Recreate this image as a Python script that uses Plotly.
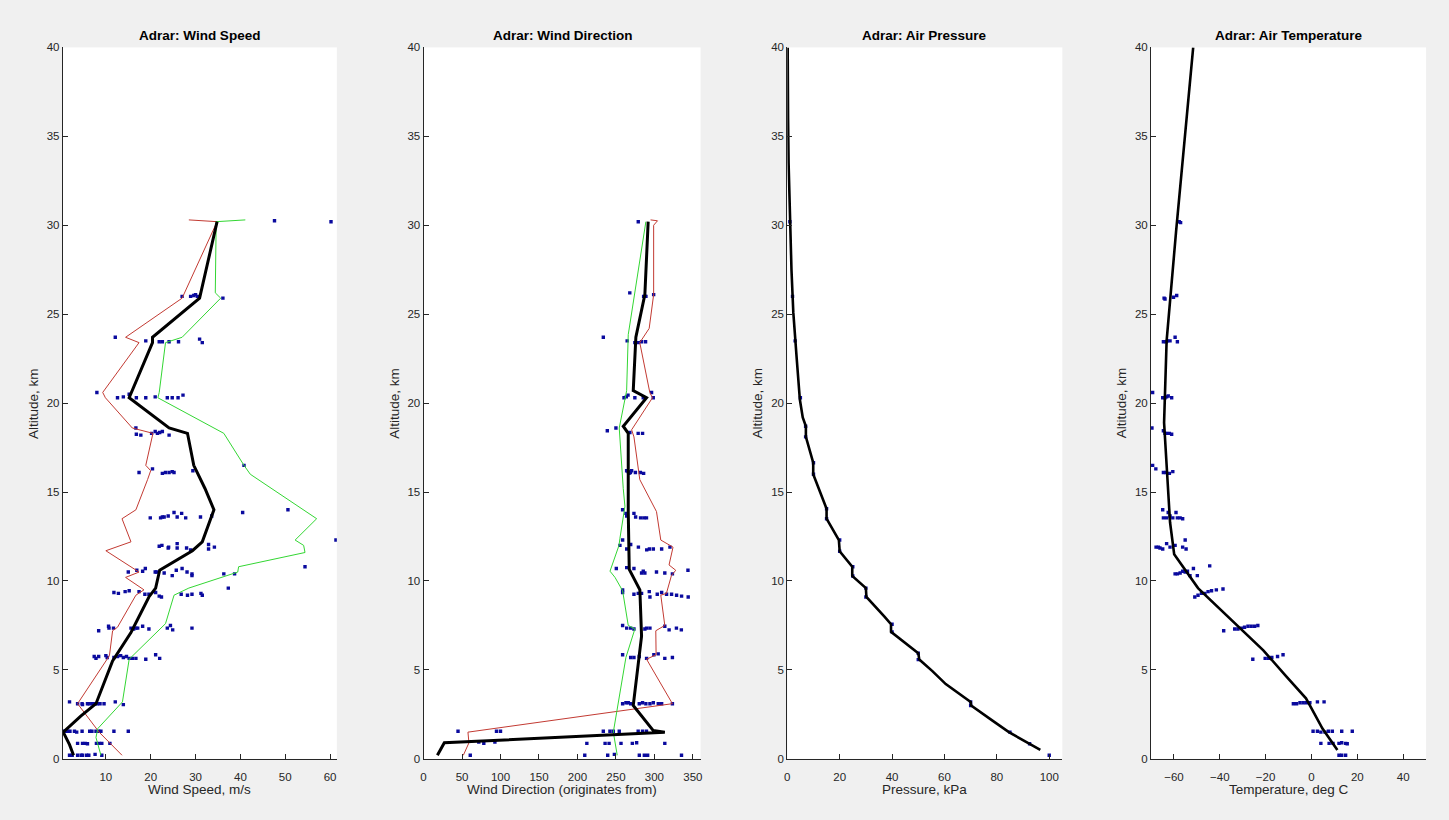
import plotly.graph_objects as go

# ---------------- DATA ----------------
# Wind speed (m/s) vs altitude (km)
WS_POINTS = [
    (47.6, 30.25), (60.2, 30.2),
    (27.0, 26.0), (28.9, 26.0), (29.6, 26.05), (30.0, 26.1), (30.4, 26.0), (36.1, 25.9),
    (12.1, 23.7), (18.9, 23.5), (21.9, 23.45), (22.6, 23.45), (24.1, 23.45), (26.2, 23.45), (30.9, 23.6), (31.5, 23.4),
    (8.0, 20.6), (12.6, 20.3), (13.9, 20.35), (15.2, 20.5), (16.8, 20.3), (18.9, 20.3), (21.0, 20.35), (23.7, 20.3),
    (24.8, 20.3), (26.1, 20.3), (27.2, 20.45),
    (16.7, 18.6), (16.8, 18.25), (17.8, 18.2), (20.2, 18.3), (21.0, 18.4), (21.5, 18.3), (22.0, 18.35), (22.6, 18.4), (24.1, 18.2),
    (17.4, 16.1), (20.4, 16.3), (22.6, 16.05), (23.3, 16.1), (24.1, 16.1), (24.8, 16.15), (25.2, 16.1), (29.4, 16.2), (40.8, 16.5),
    (19.9, 13.55), (22.2, 13.55), (22.6, 13.6), (23.0, 13.6), (23.9, 13.65), (25.2, 13.85), (25.9, 13.6), (26.9, 13.8),
    (27.8, 13.55), (31.1, 13.6), (33.6, 13.65), (40.5, 13.85), (50.6, 14.0),
    (21.9, 11.95), (22.5, 12.0), (23.9, 11.85), (24.0, 11.9), (25.9, 11.85), (25.9, 12.1), (28.0, 11.85), (28.9, 11.75),
    (32.9, 12.05), (32.9, 11.8), (34.2, 11.9), (61.3, 12.3),
    (15.0, 10.5), (16.9, 10.6), (18.2, 10.55), (18.8, 10.7), (21.0, 10.5), (21.3, 10.5), (23.0, 10.45), (24.8, 10.3),
    (25.7, 10.6), (27.0, 10.7), (28.1, 10.5), (29.2, 10.4), (29.2, 10.3), (36.3, 10.4), (38.7, 10.4), (54.4, 10.8), (37.3, 9.6),
    (11.8, 9.35), (12.8, 9.3), (14.3, 9.4), (15.2, 9.45), (17.4, 9.4), (18.7, 9.25), (19.6, 9.25), (21.1, 9.35),
    (21.9, 9.15), (22.4, 9.1), (26.8, 9.25), (28.2, 9.2), (29.2, 9.25), (31.2, 9.3), (31.5, 9.2),
    (8.4, 7.2), (10.6, 7.45), (10.7, 7.35), (11.7, 7.35), (15.6, 7.35), (16.2, 7.3), (16.7, 7.35), (17.1, 7.35),
    (18.2, 7.45), (19.6, 7.3), (23.7, 7.35), (24.4, 7.5), (24.9, 7.25), (29.2, 7.35),
    (7.4, 5.75), (7.8, 5.65), (8.4, 5.75), (10.0, 5.8), (10.3, 5.7), (11.8, 5.7), (12.6, 5.75), (13.3, 5.8), (13.9, 5.7),
    (14.6, 5.75), (15.2, 5.65), (15.9, 5.65), (16.7, 5.65), (18.9, 5.6), (21.1, 5.85), (22.0, 5.65),
    (1.9, 3.2), (3.7, 3.1), (4.7, 3.1), (4.8, 3.05), (5.9, 3.1), (6.3, 3.1), (7.0, 3.1), (7.6, 3.1), (8.1, 3.1),
    (8.7, 3.1), (9.6, 3.1), (12.1, 3.2), (13.9, 3.05),
    (0.8, 1.55), (1.0, 1.55), (1.5, 1.55), (2.0, 1.55), (3.0, 1.55), (3.5, 1.5), (4.7, 1.55), (6.4, 1.55), (6.9, 1.55),
    (7.8, 1.55), (8.4, 1.55), (8.9, 1.55), (11.8, 1.55), (15.0, 1.55),
    (3.7, 0.87), (4.8, 0.87), (5.4, 0.87), (5.9, 0.85), (7.9, 0.87), (8.5, 0.87), (9.1, 0.87), (10.9, 0.87),
    (1.9, 0.2), (2.5, 0.2), (3.7, 0.2), (4.5, 0.2), (4.8, 0.2), (5.7, 0.2), (6.2, 0.2), (7.6, 0.25), (9.1, 0.2),
]
WS_MEAN = [(2.8, 0.2), (1.9, 0.8), (0.5, 1.5), (4.4, 2.4), (7.8, 3.1), (11.5, 5.5), (15.6, 7.1), (19.6, 9.1),
           (21.1, 9.6), (22.0, 10.6), (29.3, 11.7), (31.5, 12.2), (34.1, 14.0), (32.1, 15.2), (29.6, 16.5),
           (28.2, 18.3), (24.1, 18.6), (15.2, 20.3), (20.4, 23.4), (20.4, 23.7), (30.9, 25.9), (34.8, 30.2)]
WS_LOW = [(13.6, 0.2), (8.5, 1.5), (3.7, 3.1), (10.8, 5.8), (11.5, 7.2), (12.6, 7.4), (16.7, 9.2), (18.5, 9.5),
          (14.4, 10.2), (17.4, 10.5), (10.0, 11.7), (15.6, 12.2), (13.6, 13.5), (16.7, 14.0), (19.3, 15.7),
          (20.0, 16.2), (18.9, 16.5), (20.5, 18.3), (15.9, 18.6), (9.9, 20.3), (9.3, 20.6), (17.4, 23.4),
          (14.4, 23.7), (27.0, 25.9), (34.8, 30.2), (28.5, 30.3)]
WS_HIGH = [(8.9, 0.2), (7.8, 1.2), (8.2, 1.7), (13.7, 3.2), (15.2, 5.6), (21.5, 7.2), (23.3, 7.6), (25.2, 9.2),
           (28.5, 9.6), (39.4, 10.5), (39.6, 10.8), (54.4, 11.6), (54.1, 12.0), (52.2, 12.3), (57.0, 13.5),
           (42.2, 16.0), (40.8, 16.5), (36.3, 18.3), (21.6, 20.3), (21.9, 20.6), (23.3, 23.4), (27.0, 23.7),
           (35.6, 25.9), (34.4, 26.2), (34.6, 30.2), (41.1, 30.3)]

# Wind direction (deg, originates from)
WD_POINTS = [
    (279, 30.2),
    (268, 26.2), (286, 26.0), (288, 26.0), (289, 26.0), (299, 26.1),
    (233.6, 23.7), (264.6, 23.5), (274.6, 23.4), (279, 23.4), (283.3, 23.45), (288.5, 23.45),
    (260.5, 20.3), (263.5, 20.35), (265.7, 20.45), (274.6, 20.3), (285.5, 20.3), (296.3, 20.6), (298.5, 20.3),
    (238.8, 18.45), (250, 18.6), (268.1, 18.35), (278.9, 18.3), (284.6, 18.3),
    (263.9, 16.2), (265.8, 16.15), (267, 16.05), (268.8, 16.1), (270.4, 16.2), (275.3, 16.1), (281.8, 16.1), (286, 16.05),
    (258.7, 14.0), (263, 13.8), (264, 13.65), (273.4, 13.8), (275.6, 13.6), (282, 13.55), (286.3, 13.55), (289.7, 13.55),
    (258.7, 12.3), (255.2, 12.0), (264, 11.8), (269.2, 12.05), (279.2, 11.9), (290, 11.75), (293.5, 11.8), (298.6, 11.8),
    (309.4, 11.8), (320.2, 11.9),
    (250.5, 10.7), (264, 10.75), (273.4, 10.7), (283.3, 10.45), (285.5, 10.55), (287.6, 10.45), (302.7, 10.5),
    (313.5, 10.45), (323.4, 10.4), (343.6, 10.6),
    (258.7, 9.5), (258.7, 9.35), (273.4, 9.25), (279, 9.3), (283.3, 9.3), (293.3, 9.4), (294.2, 9.1), (303.7, 9.25),
    (309.4, 9.35), (315.8, 9.25), (322.3, 9.25), (328.8, 9.2), (335.3, 9.15), (343.9, 9.1),
    (258.7, 7.5), (264, 7.35), (269.2, 7.35), (273.4, 7.3), (287.6, 7.3), (289.8, 7.35), (294.2, 7.35), (313.5, 7.45),
    (319.1, 7.25), (328.6, 7.35), (335, 7.25),
    (258.7, 5.85), (269.2, 5.7), (273.4, 5.7), (280.3, 5.75), (289.8, 5.65), (299.3, 5.85), (304.9, 5.9), (313.5, 5.65),
    (323.4, 5.7),
    (258.7, 3.1), (263, 3.15), (266, 3.15), (269.2, 3.1), (280.3, 3.1), (284.6, 3.15), (288.9, 3.1), (294.2, 3.1),
    (298.6, 3.15), (305, 3.1), (309.4, 3.1), (323.4, 3.1),
    (44.8, 1.55), (94.8, 1.55), (100, 1.55), (233.6, 1.55), (242.2, 1.55), (246.6, 1.55), (254.3, 1.55),
    (278.9, 1.55), (284.6, 1.55), (289.7, 1.55),
    (71.8, 0.95), (78.3, 0.87), (92.7, 0.95), (212.2, 0.87), (235.9, 0.87), (241.1, 0.87), (256.6, 0.87),
    (271.3, 0.87), (276.9, 0.9), (313.5, 0.87),
    (60.7, 0.2), (209.5, 0.2), (239.3, 0.2), (248, 0.25), (280.4, 0.2), (286.9, 0.2), (291.2, 0.2), (335.2, 0.2),
]
WD_MEAN = [(18, 0.2), (27, 0.9), (313.5, 1.5), (298.3, 1.6), (272.5, 3.0), (283.3, 6.9), (281.1, 9.5),
           (267.3, 10.65), (266, 13.9), (266, 15.7), (266, 18.3), (259.5, 18.7), (289.8, 20.3), (272.5, 20.7),
           (275.9, 23.7), (287.6, 26.1), (291.9, 30.2)]
WD_HIGH = [(51.7, 0.2), (59, 0.9), (57.7, 1.5), (323.4, 3.1), (289.8, 5.6), (302.2, 5.85), (301.8, 7.2),
           (313.5, 7.5), (308.3, 9.2), (315.6, 9.3), (322.1, 10.3), (327.7, 10.6), (319, 10.9), (324.2, 11.9),
           (308.3, 12.3), (302.7, 13.9), (281, 15.7), (273.4, 18.1), (270.4, 18.5), (297.5, 20.3), (294, 20.6),
           (281, 23.4), (293.2, 24.2), (299, 26.1), (299, 30.0), (304, 30.25), (295, 30.3)]
WD_LOW = [(251.7, 0.2), (246.6, 1.5), (263, 5.7), (274.6, 7.3), (266, 7.5), (258.7, 9.45), (248.8, 10.2),
          (242.3, 10.55), (254, 12.0), (255.2, 12.4), (261.7, 14.2), (259.5, 15.2), (254.3, 18.6),
          (263.9, 20.7), (266, 23.85), (288.9, 30.2)]

# Air pressure (kPa)
PR_POINTS = [(100, 0.2), (92.5, 0.85), (85, 1.5), (70, 3.0), (70, 3.2), (50, 5.58), (50, 5.94), (40, 7.14),
             (40, 7.57), (30, 9.1), (30, 9.6), (25, 10.28), (25, 10.8), (20, 11.67), (20, 12.3), (15, 13.5),
             (15, 14.06), (10, 16.0), (10, 16.65), (7, 18.1), (7, 18.7), (5, 20.3), (3, 23.5), (2, 26.0), (1, 30.2)]
PR_MEAN = [(96.6, 0.5), (90.9, 0.96), (84.6, 1.5), (78.2, 2.16), (70.2, 3.0), (70, 3.2), (60.5, 4.2),
           (55.4, 4.93), (50.4, 5.58), (50, 5.94), (45.3, 6.5), (39.6, 7.14), (39.6, 7.57), (37.1, 8.0),
           (30.2, 9.1), (30.0, 9.6), (24.8, 10.28), (24.8, 10.8), (20.0, 11.67), (19.7, 12.3), (15.0, 13.5),
           (15.0, 14.06), (9.9, 16.0), (9.9, 16.65), (7.1, 18.1), (7.1, 18.7), (5.9, 19.2), (4.8, 20.2),
           (3.6, 22.5), (2.3, 25.1), (1.6, 27.5), (1.0, 30.3), (0.5, 33.5), (0.3, 36), (0.15, 40)]

# Air temperature (deg C)
TP_POINTS = [
    (-57.7, 30.2), (-57.1, 30.15),
    (-64.3, 25.9), (-63.9, 25.85), (-60.2, 25.95), (-58.8, 26.05),
    (-64.6, 23.45), (-63.4, 23.45), (-62.8, 23.5), (-61.7, 23.5), (-59.5, 23.7), (-58.5, 23.45),
    (-69.3, 20.6), (-64.9, 20.3), (-63.9, 20.3), (-63.2, 20.35), (-62.5, 20.4), (-61.0, 20.3),
    (-69.6, 18.6), (-64.6, 18.45), (-63.9, 18.3), (-63.2, 18.3), (-62.0, 18.3), (-61.0, 18.25),
    (-69.3, 16.5), (-67.9, 16.3), (-64.6, 16.1), (-63.4, 16.1), (-62.0, 16.05), (-60.5, 16.15),
    (-64.9, 14.0), (-64.6, 13.55), (-63.2, 13.55), (-62.5, 13.85), (-61.7, 13.65), (-60.5, 13.55), (-59.1, 13.85),
    (-58.5, 13.55), (-57.3, 13.55), (-56.2, 13.5),
    (-67.8, 11.9), (-66.8, 11.9), (-66.1, 11.85), (-64.9, 11.8), (-63.2, 12.1), (-61.7, 11.9), (-59.5, 12.0),
    (-56.2, 11.9), (-54.7, 11.8), (-55.1, 12.3),
    (-59.5, 10.4), (-58.5, 10.4), (-57.3, 10.45), (-56.2, 10.55), (-55.1, 10.5), (-54.1, 10.55), (-53.0, 10.3),
    (-51.5, 10.7), (-49.8, 10.3), (-44.4, 10.85),
    (-50.9, 9.1), (-49.5, 9.2), (-48.0, 9.3), (-46.5, 9.3), (-45.1, 9.4), (-43.6, 9.45), (-41.5, 9.5), (-38.6, 9.55),
    (-38.3, 7.2), (-33.5, 7.3), (-32.1, 7.3), (-30.6, 7.35), (-29.2, 7.4), (-27.7, 7.45), (-26.3, 7.45),
    (-24.8, 7.45), (-23.4, 7.5),
    (-25.6, 5.6), (-20.2, 5.65), (-18.7, 5.65), (-17.3, 5.7), (-14.8, 5.75), (-12.4, 5.85),
    (-7.9, 3.1), (-6.5, 3.1), (-5.0, 3.15), (-3.6, 3.15), (-2.2, 3.15), (-0.7, 3.15), (2.6, 3.2), (5.5, 3.2),
    (0.7, 1.55), (2.6, 1.55), (4.1, 1.5), (5.9, 1.5), (7.4, 1.55), (9.1, 1.55), (13.2, 1.55), (17.8, 1.55),
    (4.1, 0.87), (7.7, 0.87), (9.4, 0.87), (12.0, 0.87), (13.2, 0.9), (14.9, 0.87), (15.6, 0.85),
    (12.0, 0.2), (13.2, 0.2), (14.9, 0.2),
]
TP_MEAN = [(11.3, 0.5), (4.8, 1.7), (-0.7, 3.0), (-2.4, 3.4), (-11.1, 4.65), (-21.0, 6.1), (-49.5, 9.6),
           (-59.9, 11.5), (-61.7, 13.3), (-62.9, 15.7), (-64.3, 18.9), (-63.2, 23.5), (-59.1, 29.6), (-51.6, 40)]

TITLES = ["Adrar: Wind Speed", "Adrar: Wind Direction", "Adrar: Air Pressure", "Adrar: Air Temperature"]
XLABELS = ["Wind Speed, m/s", "Wind Direction (originates from)", "Pressure, kPa", "Temperature, deg C"]
YLABEL = "Altitude, km"
XRANGES = [[0.4, 61.5], [0, 360], [0, 105], [-70, 50]]
XTICKS = [[10, 20, 30, 40, 50, 60], [0, 50, 100, 150, 200, 250, 300, 350],
          [0, 20, 40, 60, 80, 100], [-60, -40, -20, 0, 20, 40]]
YTICKS = [0, 5, 10, 15, 20, 25, 30, 35, 40]

# ---------------- STYLE / LAYOUT ----------------
W, H = 1449, 820
PX_LEFT = [60, 422, 787, 1152]
PX_RIGHT = [335, 700, 1063, 1428]
PY_TOP, PY_BOT = 42, 764
YLAB_X = [30, 392, 757, 1122]
FONT = "Liberation Sans, Arial, Helvetica, sans-serif"
AXC = "#262626"
DOT_C = "#0a0a9e"
RED = "#c23a32"
GREEN = "#33d633"


def unzip(pts):
    return [p[0] for p in pts], [p[1] for p in pts]


fig = go.Figure()

panels = [
    (WS_POINTS, [(WS_LOW, RED, 1), (WS_HIGH, GREEN, 1), (WS_MEAN, "black", 3)]),
    (WD_POINTS, [(WD_HIGH, RED, 1), (WD_LOW, GREEN, 1), (WD_MEAN, "black", 3)]),
    (PR_POINTS, [(PR_MEAN, "black", 2.6)]),
    (TP_POINTS, [(TP_MEAN, "black", 2.6)]),
]

for i, (pts, lines) in enumerate(panels):
    ax = "" if i == 0 else str(i + 1)
    xs, ys = unzip(pts)
    fig.add_trace(go.Scatter(x=xs, y=ys, mode="markers", xaxis="x" + ax, yaxis="y" + ax,
                             marker=dict(symbol="square", size=3.4, color=DOT_C, line=dict(width=0)),
                             showlegend=False, hoverinfo="skip"))
    for (lp, col, wdt) in lines:
        lx, ly = unzip(lp)
        fig.add_trace(go.Scatter(x=lx, y=ly, mode="lines", xaxis="x" + ax, yaxis="y" + ax,
                                 line=dict(color=col, width=wdt), showlegend=False, hoverinfo="skip"))

layout = dict(
    width=W, height=H, margin=dict(l=0, r=0, t=0, b=0),
    paper_bgcolor="#f0f0f0", plot_bgcolor="white",
    font=dict(family=FONT, size=11.5, color=AXC),
    annotations=[],
)

ydom = [1 - PY_BOT / H, 1 - PY_TOP / H]
for i in range(4):
    ax = "" if i == 0 else str(i + 1)
    common = dict(showline=True, linecolor=AXC, linewidth=1, ticks="inside", ticklen=5, tickcolor=AXC,
                  tickwidth=1, showgrid=False, zeroline=False, mirror=False,
                  tickfont=dict(family=FONT, size=11.5, color=AXC), fixedrange=True)
    layout["xaxis" + ax] = dict(domain=[PX_LEFT[i] / W, PX_RIGHT[i] / W], range=XRANGES[i],
                                tickmode="array", tickvals=XTICKS[i], anchor="y" + ax,
                                ticklabelstandoff=7, **common)
    layout["yaxis" + ax] = dict(domain=ydom, range=[0, 40], tickmode="array", tickvals=YTICKS,
                                anchor="x" + ax, **common)
    cx = (PX_LEFT[i] + PX_RIGHT[i]) / 2 / W
    layout["annotations"].append(dict(text="<b>" + TITLES[i] + "</b>", x=cx, y=1 - 30 / H, xref="paper",
                                      yref="paper", showarrow=False, xanchor="center", yanchor="middle",
                                      font=dict(family=FONT, size=13.5, color="black")))
    layout["annotations"].append(dict(text=XLABELS[i], x=cx, y=1 - 795 / H, xref="paper", yref="paper",
                                      showarrow=False, xanchor="center", yanchor="middle",
                                      font=dict(family=FONT, size=13.5, color=AXC)))
    layout["annotations"].append(dict(text=YLABEL, x=YLAB_X[i] / W, y=1 - 403 / H, xref="paper",
                                      yref="paper", showarrow=False, xanchor="center", yanchor="middle",
                                      textangle=-90, font=dict(family=FONT, size=13.5, color=AXC)))

fig.update_layout(**layout)
fig.write_html("out.html", config={"displayModeBar": False},
               post_script="document.body.style.margin='0';document.body.style.overflow='hidden';")
